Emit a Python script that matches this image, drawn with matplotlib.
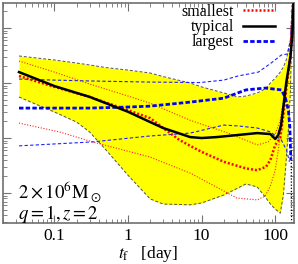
import matplotlib.pyplot as plt

plt.rcParams['font.family'] = ['Liberation Serif', 'DejaVu Serif']
plt.rcParams['mathtext.fontset'] = 'stix'

# typical (black, thick)
t_typ = [0.033, 0.1, 0.3, 1, 2, 3, 7, 10, 16, 30, 57, 86, 100, 110, 120, 129, 141, 161, 171, 178]
v_typ = [0.158, 0.088, 0.056, 0.030, 0.0195, 0.0152, 0.0104, 0.0100, 0.0104, 0.0113,
         0.0123, 0.0118, 0.0096, 0.0113, 0.0172, 0.037, 0.10, 0.30, 0.75, 3.0]

# smallest: median (thick) and the two bounds (thin)
t_sm = [0.033, 0.1, 0.3, 1, 2, 3, 5, 7, 10, 20, 40, 57, 75, 86, 100, 117, 129, 141, 161, 175]
v_sm = [0.134, 0.085, 0.056, 0.032, 0.023, 0.0152, 0.0092, 0.0072, 0.0056, 0.0037,
        0.0028, 0.0026, 0.0030, 0.0040, 0.0075, 0.010, 0.026, 0.075, 0.32, 3.0]
t_sm_hi = [0.033, 0.1, 0.3, 1, 2, 7, 13, 23, 39, 57, 80, 100, 117, 141, 161, 175]
v_sm_hi = [0.251, 0.158, 0.096, 0.058, 0.043, 0.021, 0.0158, 0.0123, 0.0092, 0.0075,
           0.0085, 0.0118, 0.021, 0.092, 0.40, 3.0]
t_sm_lo = [0.033, 0.117, 0.33, 2, 7, 20, 30, 57, 73, 86, 100, 110, 120, 141, 161, 175]
v_sm_lo = [0.0187, 0.0129, 0.0085, 0.0045, 0.0023, 0.00109, 0.00081, 0.00075, 0.00088,
           0.00134, 0.0026, 0.0061, 0.014, 0.075, 0.40, 3.0]

# largest: median (thick) and bounds (thin)
t_lg = [0.033, 0.1, 0.3, 1, 2, 7, 20, 40, 73, 121, 137, 151, 158, 163]
v_lg = [0.035, 0.035, 0.035, 0.0366, 0.038, 0.045, 0.053, 0.075, 0.081, 0.075, 0.055,
        0.032, 0.0158, 0.004]
t_lg_hi = [0.033, 0.1, 0.3, 2, 9.5, 20, 31, 59, 88, 121, 146, 161, 168, 173]
v_lg_hi = [0.118, 0.113, 0.109, 0.104, 0.102, 0.113, 0.134, 0.158, 0.231, 0.323, 0.337,
           0.605, 1.7, 3.0]
t_lg_lo = [0.033, 0.33, 2, 7, 20, 31, 57, 86, 107, 121, 142, 156]
v_lg_lo = [0.0072, 0.0085, 0.0109, 0.0123, 0.0172, 0.0166, 0.0152, 0.0129, 0.0104,
           0.0092, 0.0061, 0.0037]

# yellow band
t_band = [0.033, 0.1, 0.2, 0.3, 0.5, 1, 2, 3, 7, 10, 20, 31, 40, 57, 73, 86, 100, 117,
          129, 141, 151, 161, 171]
band_hi = [0.31, 0.262, 0.231, 0.213, 0.191, 0.172, 0.152, 0.131, 0.10, 0.085, 0.066,
           0.056, 0.058, 0.066, 0.078, 0.10, 0.123, 0.158, 0.195, 0.262, 0.398, 0.605, 2.6]
band_lo = [0.0556, 0.0297, 0.0195, 0.0129, 0.0061, 0.0021, 0.00078, 0.00063, 0.00061,
           0.00066, 0.00092, 0.00123, 0.00146, 0.00129, 0.00085, 0.00063, 0.00051,
           0.00043, 0.00092, 0.004, 0.014, 0.0746, 2.6]

# steep drop at the right edge
t_edge = [165, 166, 167]
v_edge = [0.006, 0.001, 0.0002]

fig = plt.figure(figsize=(2.98, 2.64), dpi=100)
ax = fig.add_axes([0.0101, 0.1553, 0.9765, 0.8333])

ax.fill_between(t_band, band_lo, band_hi, color='#ffff00', lw=0, zorder=1)
ax.plot(t_band, band_hi, color='#505050', lw=0.7, ls=(0, (3, 2)), zorder=2)
ax.plot(t_band, band_lo, color='#505050', lw=0.7, ls=(0, (3, 2)), zorder=2)
ax.plot(t_edge, v_edge, color='black', lw=0.9, ls=(0, (1, 1.5)), zorder=2)

ax.plot(t_sm_hi, v_sm_hi, color='#ff2020', lw=0.8, ls=(0, (1, 1.5)), zorder=3)
ax.plot(t_sm_lo, v_sm_lo, color='#ff2020', lw=0.8, ls=(0, (1, 1.5)), zorder=3)
ax.plot(t_lg_hi, v_lg_hi, color='#2020ff', lw=0.8, ls=(0, (3, 2)), zorder=3)
ax.plot(t_lg_lo, v_lg_lo, color='#2020ff', lw=0.8, ls=(0, (3, 2)), zorder=3)

ax.plot(t_sm, v_sm, color='red', lw=1.8, ls=(0, (0.8, 0.8)), zorder=4, label='smallest')
ax.plot(t_typ, v_typ, color='black', lw=1.8, zorder=5, label='typical')
ax.plot(t_lg, v_lg, color='blue', lw=2.0, ls=(0, (1.6, 0.8)), zorder=4, label='largest')

ax.set_xscale('log')
ax.set_yscale('log')
ax.set_xlim(0.02, 180)
ax.set_ylim(2.85e-4, 2.85)
ax.set_xticks([0.1, 1, 10, 100])
ax.set_xticklabels(['0.1', '1', '10', '100'])
ax.tick_params(which='both', direction='in', top=True, right=True, color='#707070',
               labelleft=False, labelsize=12.5, pad=3.5)
ax.tick_params(which='major', length=6)
ax.tick_params(which='minor', length=3)
for s in ax.spines.values():
    s.set_color('#707070')
    s.set_linewidth(1.2)

ax.set_xlabel(r'$t_\mathrm{f}$   [day]', fontsize=12.5, labelpad=0)

ax.legend(loc='upper right', bbox_to_anchor=(0.958, 1.025), frameon=False, markerfirst=False,
          fontsize=11.5, handlelength=2.0, handletextpad=0.6, labelspacing=-0.05,
          borderaxespad=0)

ax.text(0.052, 0.112, r'$2\times10^6\mathrm{M}_\odot$', transform=ax.transAxes,
        fontsize=13.5, va='baseline', zorder=6)
ax.text(0.052, 0.02, r'$q=1,z=2$', transform=ax.transAxes,
        fontsize=13.5, va='baseline', zorder=6)

fig.savefig('out.png', dpi=100)
